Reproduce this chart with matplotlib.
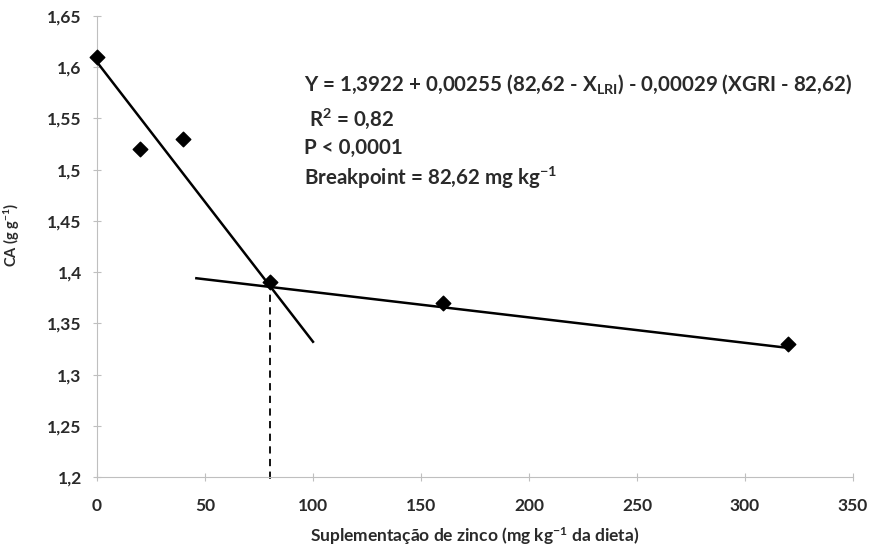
import matplotlib
matplotlib.use("Agg")
import matplotlib.pyplot as plt

plt.rcParams['font.family'] = ['Lato', 'DejaVu Sans']
plt.rcParams['font.weight'] = 'bold'
plt.rcParams['mathtext.fontset'] = 'custom'
plt.rcParams['mathtext.rm'] = 'Lato:bold'
plt.rcParams['mathtext.it'] = 'Lato:bold'
plt.rcParams['mathtext.bf'] = 'Lato:bold'

# dados observados
zinco = [0, 20, 40, 80, 160, 320]
ca = [1.61, 1.52, 1.53, 1.39, 1.37, 1.33]

# retas do modelo
reta1_x = [0, 100]
reta1_y = [1.605, 1.332]
reta2_x = [46, 320]
reta2_y = [1.394, 1.326]
breakpoint_x = 80
breakpoint_y = 1.39

xticks = [0, 50, 100, 150, 200, 250, 300, 350]
yticks = [1.2, 1.25, 1.3, 1.35, 1.4, 1.45, 1.5, 1.55, 1.6, 1.65]

fig = plt.figure(figsize=(8.95, 5.58), dpi=100)
ax = fig.add_axes([0.1084, 0.1452, 0.8446, 0.8261])

ax.plot(reta1_x, reta1_y, color='black', lw=1.8)
ax.plot(reta2_x, reta2_y, color='black', lw=1.8)
ax.plot([breakpoint_x, breakpoint_x], [breakpoint_y, 1.195], color='black',
        lw=1.3, ls=(0, (4, 3)), clip_on=False)
ax.scatter(zinco, ca, marker='D', s=55, color='black', zorder=3, clip_on=False)

ax.set_xlim(0, 350)
ax.set_ylim(1.2, 1.65)
ax.set_xticks(xticks)
ax.set_yticks(yticks)
ax.set_xticklabels([str(v) for v in xticks], fontweight='bold')
ax.set_yticklabels([('%g' % v).replace('.', ',') for v in yticks], fontweight='bold')

for s in ['top', 'right']:
    ax.spines[s].set_visible(False)
for s in ['left', 'bottom']:
    ax.spines[s].set_color('#bfbfbf')
ax.tick_params(direction='inout', length=6, color='#bfbfbf', labelsize=12.5,
               labelcolor='#2a2a2a')
ax.tick_params(axis='x', pad=12)
ax.tick_params(axis='y', pad=8)

ax.set_ylabel('CA (g g$^{-1}$)', fontsize=10.5, color='#2a2a2a', fontweight='bold')
ax.yaxis.set_label_coords(-0.099, 0.525)
ax.set_xlabel('Suplementação de zinco (mg kg$^{-1}$ da dieta)', fontsize=12.5,
              color='#2a2a2a', labelpad=8, fontweight='bold')

txt = dict(fontsize=14.8, color='#2a2a2a', transform=ax.transData)
ax.text(96, 1.583, 'Y = 1,3922 + 0,00255 (82,62 - X$_{\\mathrm{LRI}}$) - 0,00029 (XGRI - 82,62)',
        va='center', **txt)
ax.text(98, 1.550, 'R$^{2}$ = 0,82', va='center', **txt)
ax.text(96, 1.521, 'P < 0,0001', va='center', **txt)
ax.text(96, 1.492, 'Breakpoint = 82,62 mg kg$^{-1}$', va='center', **txt)

fig.savefig('out.png', dpi=100)
